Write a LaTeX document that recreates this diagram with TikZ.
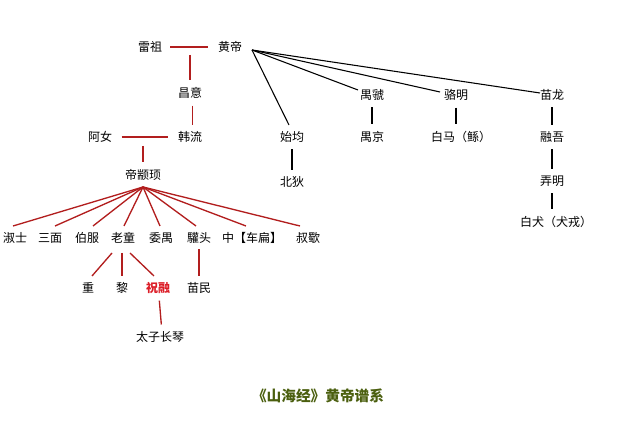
\documentclass[tikz,border=0pt]{standalone}
\usepackage{fontspec}
\setmainfont{Noto Sans CJK SC}
\begin{document}
\begin{tikzpicture}[x=0.75pt,y=-0.75pt,
  lbl/.style={font=\fontsize{9}{10}\selectfont,inner sep=1pt},
  rl/.style={draw={rgb,255:red,178;green,30;blue,30},line width=1pt},
  bl/.style={draw=black,line width=0.8pt}]
\useasboundingbox (0,0) rectangle (640,427);
\node[lbl] (leizu) at (150,47) {雷祖};
\node[lbl] (hd) at (230,47) {黄帝};
\node[lbl] (cy) at (190,93) {昌意};
\node[lbl] (hl) at (190,137) {韩流};
\node[lbl] (an) at (100,137) {阿女};
\node[lbl] (zx) at (143,175) {帝颛顼};
\node[lbl] (a1) at (15,238) {淑士};
\node[lbl] (a2) at (50,238) {三面};
\node[lbl] (a3) at (87,238) {伯服};
\node[lbl] (a4) at (123,238) {老童};
\node[lbl] (a5) at (161,238) {委禺};
\node[lbl] (a6) at (199,238) {驩头};
\node[lbl] (a7) at (252,238) {中【车扁】};
\node[lbl] (a8) at (308,238) {叔歜};
\node[lbl] (b1) at (88,288) {重};
\node[lbl] (b2) at (122,288) {黎};
\node[lbl,text={rgb,255:red,220;green,30;blue,40},font=\fontsize{9}{10}\selectfont\bfseries] (b3) at (158,288) {祝融};
\node[lbl] (b4) at (199,288) {苗民};
\node[lbl] (c1) at (160,337) {太子长琴};
\node[lbl] (sj) at (292,137) {始均};
\node[lbl] (bd) at (292,182) {北狄};
\node[lbl] (yg) at (372,95) {禺虢};
\node[lbl] (yj) at (372,137) {禺京};
\node[lbl] (lm) at (456,95) {骆明};
\node[lbl] (bm) at (461,137) {白马（鲧）};
\node[lbl] (ml) at (552,95) {苗龙};
\node[lbl] (rw) at (552,137) {融吾};
\node[lbl] (nm) at (552,181) {弄明};
\node[lbl] (bq) at (556,222) {白犬（犬戎）};
\node[font=\fontsize{11}{12}\selectfont\bfseries,text={rgb,255:red,75;green,95;blue,15}] (title) at (318,396) {《山海经》黄帝谱系};
\coordinate (hdo) at (252,50);
\coordinate (zxo) at (143,187);
\coordinate (m1) at (190,47);
\coordinate (m2) at (143,137);
% red lines
\draw[rl] ([xshift=5]leizu.east) -- ([xshift=-6]hd.west);
\draw[rl] (m1)++(0,8) -- ([yshift=4]cy.north);
\draw[rl] ([xshift=2,yshift=-4]cy.south) -- ([xshift=2,yshift=4]hl.north);
\draw[rl] ([xshift=6]an.east) -- ([xshift=-6]hl.west);
\draw[rl] (m2)++(0,9) -- ([yshift=4]zx.north);
\foreach \x in {13,55,93,124,160,196,246,300}
  \draw[rl] (zxo) -- (\x,226);
\draw[rl] (112,253) -- (92,276);
\draw[rl] (122,253) -- (122,276);
\draw[rl] (130,253) -- (154,276);
\draw[rl] ([yshift=-3]a6.south) -- ([yshift=4]b4.north);
\draw[rl] ([xshift=1,yshift=-4]b3.south) -- ([xshift=1,yshift=4]c1.north);
% black lines
\draw[bl] (hdo) -- (289,125);
\draw[bl] (hdo) -- (358,90);
\draw[bl] (hdo) -- (440,92);
\draw[bl] (hdo) -- (540,93);
\draw[bl] ([yshift=-4]sj.south) -- ([yshift=4]bd.north);
\draw[bl] ([yshift=-4]yg.south) -- ([yshift=4]yj.north);
\draw[bl] ([yshift=-4]lm.south) -- ([yshift=4]lm.south |- bm.north);
\draw[bl] ([yshift=-4]ml.south) -- ([yshift=4]rw.north);
\draw[bl] ([yshift=-4]rw.south) -- ([yshift=4]nm.north);
\draw[bl] ([yshift=-4]nm.south) -- ([yshift=4]nm.south |- bq.north);
\end{tikzpicture}
\end{document}
